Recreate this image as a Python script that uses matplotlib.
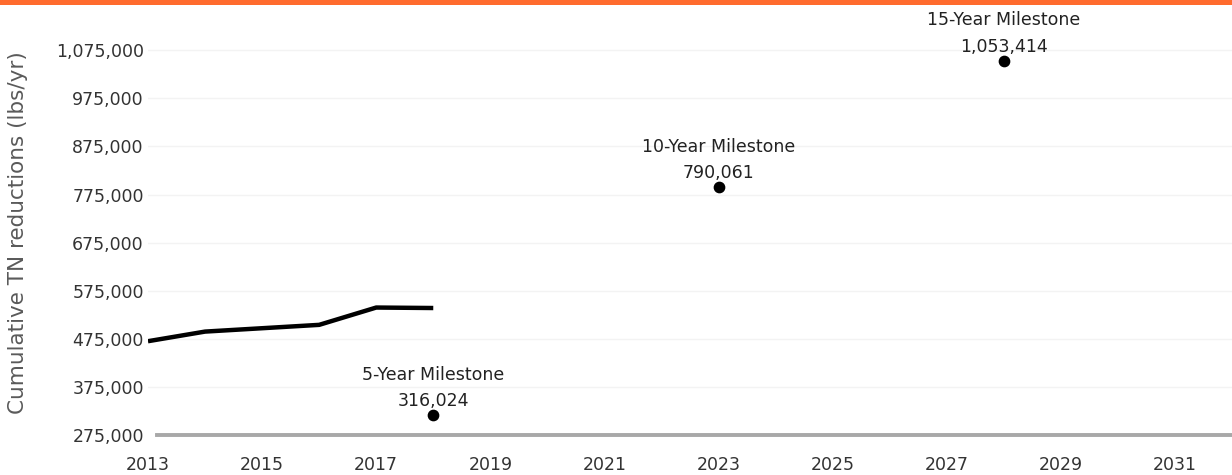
import matplotlib
matplotlib.use("Agg")
import matplotlib.pyplot as plt
from matplotlib.patches import Rectangle
from matplotlib.ticker import FuncFormatter

plt.rcParams['font.family'] = ['DejaVu Sans']

# annual cumulative reductions so far
years = [2013, 2014, 2015, 2016, 2017, 2018]
reductions = [470000, 490000, 497000, 504000, 540000, 539000]

# milestone targets
milestone_years = [2018, 2023, 2028]
milestone_values = [316024, 790061, 1053414]
milestone_names = ["5-Year Milestone", "10-Year Milestone", "15-Year Milestone"]

y_ticks = list(range(275000, 1075001, 100000))
x_ticks = list(range(2013, 2032, 2))

fig = plt.figure(figsize=(12.32, 4.75), dpi=100)
ax = fig.add_axes([148 / 1232, 40 / 475, 1 - 148 / 1232, 430 / 475])

# orange band across the top
fig.patches.append(Rectangle((0, 470 / 475), 1, 5 / 475, transform=fig.transFigure,
                             facecolor="#ff6b2e", edgecolor="none"))

ax.plot(years, reductions, color="black", linewidth=3.2, solid_capstyle="butt",
        solid_joinstyle="round", zorder=3)
ax.scatter(milestone_years, milestone_values, s=55, color="black", zorder=4)

for yr, val, name in zip(milestone_years, milestone_values, milestone_names):
    ax.annotate(f"{name}\n{val:,}", (yr, val), xytext=(0, 3.5), textcoords="offset points",
                ha="center", va="bottom", fontsize=12.5, color="#222222", linespacing=1.6)

ax.set_xlim(2013, 2032)
ax.set_ylim(275000, 1169000)
ax.set_xticks(x_ticks)
ax.set_yticks(y_ticks)
ax.yaxis.set_major_formatter(FuncFormatter(lambda v, p: f"{int(v):,}"))

for y in y_ticks[1:]:
    ax.axhline(y, color="#f3f3f3", linewidth=1, zorder=0)
ax.axhline(275000, xmin=0.008, xmax=1, color="#a8a8a8", linewidth=2.8, zorder=2, clip_on=False)

for s in ax.spines.values():
    s.set_visible(False)
ax.tick_params(axis="both", length=0, labelsize=12.5, colors="#333333")
ax.tick_params(axis="x", pad=15)
ax.tick_params(axis="y", pad=3)

ax.set_ylabel("Cumulative TN reductions (lbs/yr)", fontsize=15.5, color="#5a5a5a")
ax.yaxis.set_label_coords(-120 / 1084, 0.47)

fig.savefig("out.png", dpi=100)
